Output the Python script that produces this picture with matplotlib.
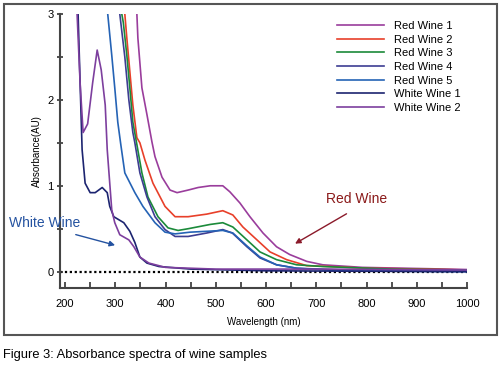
import matplotlib
matplotlib.use("Agg")
import matplotlib.pyplot as plt
from matplotlib.patches import Rectangle

# spectra: wavelength (nm) / absorbance (AU)
rw1_nm = [338, 343, 345, 353, 363, 373, 379, 393, 409, 423, 445, 465, 489, 514, 528, 548, 568, 594, 621, 647, 681, 713, 792, 920, 1000]
rw1_abs = [3.3, 3.0, 2.72, 2.14, 1.83, 1.51, 1.34, 1.10, 0.95, 0.92, 0.95, 0.98, 1.0, 1.0, 0.93, 0.80, 0.64, 0.45, 0.29, 0.20, 0.12, 0.08, 0.05, 0.035, 0.025]

rw2_nm = [316, 319, 323, 329, 335, 343, 349, 359, 375, 399, 419, 445, 482, 514, 534, 554, 582, 608, 641, 681, 727, 800, 920, 1000]
rw2_abs = [3.3, 3.0, 2.72, 2.33, 1.94, 1.56, 1.50, 1.30, 1.03, 0.76, 0.64, 0.64, 0.67, 0.71, 0.66, 0.52, 0.37, 0.23, 0.14, 0.07, 0.06, 0.04, 0.03, 0.02]

rw3_nm = [310, 313, 316, 323, 329, 335, 343, 353, 365, 385, 405, 425, 445, 489, 514, 534, 562, 588, 621, 661, 713, 850, 1000]
rw3_abs = [3.3, 3.0, 2.90, 2.52, 2.14, 1.74, 1.48, 1.15, 0.87, 0.64, 0.51, 0.48, 0.50, 0.55, 0.57, 0.52, 0.37, 0.23, 0.14, 0.08, 0.06, 0.03, 0.02]

rw4_nm = [306, 309, 319, 327, 335, 339, 349, 363, 379, 399, 419, 445, 482, 514, 533, 562, 588, 621, 661, 750, 1000]
rw4_abs = [3.3, 3.0, 2.5, 2.0, 1.62, 1.50, 1.15, 0.87, 0.64, 0.49, 0.41, 0.41, 0.45, 0.49, 0.45, 0.29, 0.16, 0.08, 0.04, 0.02, 0.01]

rw5_nm = [282, 285, 293, 299, 305, 311, 319, 339, 355, 379, 399, 419, 449, 482, 514, 534, 562, 588, 621, 661, 750, 1000]
rw5_abs = [3.3, 3.0, 2.52, 2.14, 1.74, 1.48, 1.15, 0.92, 0.76, 0.57, 0.46, 0.44, 0.46, 0.47, 0.48, 0.45, 0.30, 0.17, 0.08, 0.04, 0.01, 0.0]

ww1_nm = [223, 226, 230, 234, 240, 250, 260, 274, 284, 289, 297, 317, 329, 339, 349, 363, 387, 450, 600, 1000]
ww1_abs = [3.3, 3.0, 2.2, 1.42, 1.03, 0.92, 0.92, 0.98, 0.92, 0.76, 0.64, 0.57, 0.47, 0.34, 0.17, 0.10, 0.06, 0.03, 0.01, 0.0]

ww2_nm = [221, 224, 230, 236, 245, 255, 264, 272, 280, 284, 289, 293, 299, 309, 327, 337, 349, 367, 400, 500, 700, 1000]
ww2_abs = [3.3, 3.0, 2.2, 1.62, 1.72, 2.2, 2.58, 2.35, 1.94, 1.42, 1.03, 0.72, 0.57, 0.43, 0.37, 0.29, 0.17, 0.10, 0.05, 0.03, 0.03, 0.02]

labels = ["Red Wine 1", "Red Wine 2", "Red Wine 3", "Red Wine 4", "Red Wine 5", "White Wine 1", "White Wine 2"]
colors = ["#9a3d9c", "#e8402a", "#1b8a3a", "#3d3d92", "#2563b5", "#1c2470", "#7d3f9e"]
series = [(rw1_nm, rw1_abs), (rw2_nm, rw2_abs), (rw3_nm, rw3_abs), (rw4_nm, rw4_abs),
          (rw5_nm, rw5_abs), (ww1_nm, ww1_abs), (ww2_nm, ww2_abs)]

x_major = [200, 300, 400, 500, 600, 700, 800, 900, 1000]
y_major = [0, 1, 2, 3]

plt.rcParams["font.family"] = ["Liberation Sans", "DejaVu Sans"]

fig = plt.figure(figsize=(5.0, 3.68), dpi=100)
ax = fig.add_axes([0.12, 0.2174, 0.814, 0.7446])

ax.plot([190, 1000], [0, 0], color="black", linestyle=(0, (1, 1.2)), linewidth=1.6, zorder=1)
for (xs, ys), lab, col in zip(series, labels, colors):
    ax.plot(xs, ys, color=col, linewidth=1.2, label=lab, zorder=2)

ax.set_xlim(190, 1000)
ax.set_ylim(-0.19, 3.0)
ax.set_xticks(x_major)
ax.set_xticks([250, 350, 450, 550, 650, 750, 850, 950], minor=True)
ax.set_yticks(y_major)
ax.set_yticks([0.5, 1.5, 2.5], minor=True)
ax.tick_params(axis="x", which="both", direction="in", length=4, width=1.2, colors="#333333",
               labelsize=8, labelcolor="black", pad=8)
ax.tick_params(axis="y", which="both", direction="inout", length=5, width=1.2, colors="#333333",
               labelsize=8, labelcolor="black", pad=2)
for s in ["top", "right"]:
    ax.spines[s].set_visible(False)
for s in ["left", "bottom"]:
    ax.spines[s].set_color("#444444")
    ax.spines[s].set_linewidth(1.5)

ax.set_xlabel("Wavelength (nm)", fontsize=7, labelpad=6)
ax.set_ylabel("Absorbance(AU)", fontsize=7, labelpad=4)

ax.annotate("", xy=(305, 0.30), xytext=(216, 0.44),
            arrowprops=dict(arrowstyle="-|>", color="#2452a0", lw=1.0, mutation_scale=8),
            annotation_clip=False)
ax.text(160, 0.57, "White Wine", color="#2452a0", fontsize=10, ha="center", va="center",
        clip_on=False)
ax.annotate("", xy=(653, 0.31), xytext=(765, 0.69),
            arrowprops=dict(arrowstyle="-|>", color="#8b1a2a", lw=1.0, mutation_scale=8))
ax.text(780, 0.85, "Red Wine", color="#8b1a1a", fontsize=10, ha="center", va="center")

ax.legend(loc="upper left", bbox_to_anchor=(0.665, 0.955), bbox_transform=fig.transFigure,
          frameon=False, fontsize=8, handlelength=4.2, handletextpad=0.9, labelspacing=0.33,
          borderaxespad=0)

fig.add_artist(Rectangle((4 / 500, 1 - 335 / 368), 493 / 500, 331 / 368, transform=fig.transFigure,
                         fill=False, edgecolor="#555555", linewidth=1.5))
fig.text(3 / 500, 1 - 355 / 368, "Figure 3: Absorbance spectra of wine samples", fontsize=9.3,
         va="center", ha="left")

fig.savefig("out.png", dpi=100)
plt.close()
